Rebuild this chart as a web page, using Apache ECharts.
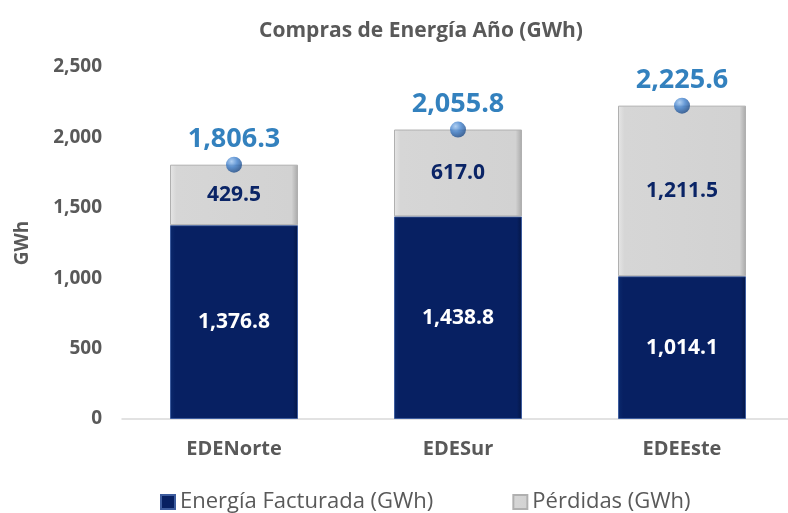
<!DOCTYPE html>
<html>
<head>
<meta charset="utf-8">
<script src="https://cdn.jsdelivr.net/npm/echarts@6/dist/echarts.min.js"></script>
<style>
html, body { margin: 0; padding: 0; background: #fff; }
#main { width: 788px; height: 513px; }
</style>
</head>
<body>
<div id="main"></div>
<script>
var categories = ['EDENorte', 'EDESur', 'EDEEste'];
var facturada = [1376.8, 1438.8, 1014.1];
var perdidas = [429.5, 617.0, 1211.5];
var totales = [1806.3, 2055.8, 2225.6];

var FONT = 'Open Sans';

function fmt(v) {
    return v.toLocaleString('en-US', { minimumFractionDigits: 1, maximumFractionDigits: 1 });
}

var myChart = echarts.init(document.getElementById('main'));

var option = {
    animation: false,
    title: {
        text: 'Compras de Energía Año (GWh)',
        left: 416,
        textAlign: 'center',
        top: 16,
        textStyle: { fontFamily: FONT, fontSize: 21, fontWeight: 'bold', color: '#595959' }
    },
    legend: {
        top: 486,
        left: 155,
        icon: 'rect',
        itemWidth: 14,
        itemHeight: 14,
        itemGap: 79,
        data: ['Energía Facturada (GWh)', 'Pérdidas (GWh)'],
        textStyle: { fontFamily: FONT, fontSize: 22, color: '#595959' }
    },
    grid: { left: 122, width: 672, top: 67, bottom: 94, outerBoundsMode: 'none', containLabel: false },
    xAxis: {
        type: 'category',
        data: categories,
        axisTick: { show: false },
        axisLine: { lineStyle: { color: '#D9D9D9', width: 1.5 } },
        axisLabel: { fontFamily: FONT, fontSize: 20, fontWeight: 'bold', color: '#595959', margin: 20 }
    },
    yAxis: {
        type: 'value',
        min: 0,
        max: 2500,
        interval: 500,
        name: 'GWh',
        nameLocation: 'middle',
        nameGap: 90,
        nameRotate: 90,
        nameTextStyle: { fontFamily: FONT, fontSize: 19, fontWeight: 'bold', color: '#595959' },
        splitLine: { show: false },
        axisLine: { show: false },
        axisTick: { show: false },
        axisLabel: {
            fontFamily: FONT, fontSize: 19, fontWeight: 'bold', color: '#595959', margin: 20,
            formatter: function (v) { return v.toLocaleString('en-US'); }
        }
    },
    series: [
        {
            name: 'Energía Facturada (GWh)',
            type: 'bar',
            stack: 'total',
            barWidth: 128,
            data: facturada,
            itemStyle: {
                color: new echarts.graphic.LinearGradient(0, 0, 1, 0, [
                    { offset: 0, color: '#0B2A6E' },
                    { offset: 0.04, color: '#072062' },
                    { offset: 0.96, color: '#072062' },
                    { offset: 1, color: '#041645' }
                ]),
                borderColor: '#3D5C9E',
                borderWidth: 1
            },
            label: {
                show: true,
                position: 'inside',
                formatter: function (p) { return fmt(p.value); },
                fontFamily: FONT, fontSize: 21, fontWeight: 'bold', color: '#ffffff'
            }
        },
        {
            name: 'Pérdidas (GWh)',
            type: 'bar',
            stack: 'total',
            barWidth: 128,
            data: perdidas,
            itemStyle: {
                color: new echarts.graphic.LinearGradient(0, 0, 1, 0, [
                    { offset: 0, color: '#E6E6E6' },
                    { offset: 0.05, color: '#D6D6D6' },
                    { offset: 0.95, color: '#D2D2D2' },
                    { offset: 1, color: '#A8A8A8' }
                ]),
                borderColor: '#B0B0B0',
                borderWidth: 1
            },
            label: {
                show: true,
                position: 'inside',
                formatter: function (p) { return fmt(p.value); },
                fontFamily: FONT, fontSize: 21, fontWeight: 'bold', color: '#0A2466'
            }
        },
        {
            name: 'Total',
            type: 'scatter',
            data: totales,
            symbolSize: 16,
            z: 5,
            itemStyle: {
                color: new echarts.graphic.RadialGradient(0.35, 0.3, 0.7, [
                    { offset: 0, color: '#9CC3EE' },
                    { offset: 0.5, color: '#3F7FCB' },
                    { offset: 1, color: '#1F4E8C' }
                ])
            },
            label: {
                show: true,
                position: 'top',
                distance: 4,
                formatter: function (p) { return fmt(p.value); },
                fontFamily: FONT, fontSize: 27, fontWeight: 'bold', color: '#0062AE'
            }
        }
    ]
};

myChart.setOption(option);
</script>
</body>
</html>
